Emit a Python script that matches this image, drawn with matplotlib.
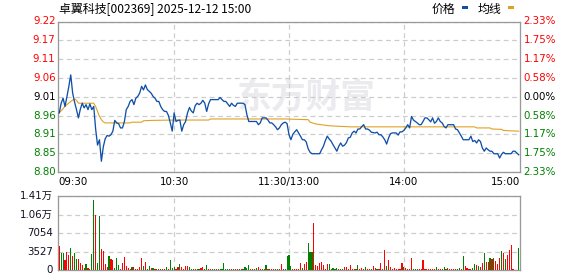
import numpy as np
import matplotlib
matplotlib.use('Agg')
import matplotlib.pyplot as plt
import matplotlib.transforms as mtransforms

# ---------------- data ----------------
title = "卓翼科技[002369] 2025-12-12 15:00"
time_labels = ["09:30", "10:30", "11:30/13:00", "14:00", "15:00"]
time_ticks = [0, 60, 120, 180, 240]

price_tick_labels = ["8.80", "8.85", "8.91", "8.96", "9.01", "9.06", "9.11", "9.17", "9.22"]
pct_tick_labels = ["2.33%", "1.75%", "1.17%", "0.58%", "0.00%", "0.58%", "1.17%", "1.75%", "2.33%"]
price_min, price_max = 8.80, 9.22

price = [
    8.965, 8.992, 9.006, 8.983, 9.010, 9.039, 9.071, 9.020, 8.995, 8.974,
    8.951, 8.975, 8.992, 8.979, 8.988, 8.974, 8.990, 8.974, 8.983, 8.920,
    8.875, 8.890, 8.830, 8.870, 8.893, 8.902, 8.900, 8.904, 8.914, 8.944,
    8.937, 8.935, 8.923, 8.923, 8.940, 8.974, 8.983, 8.997, 9.002, 8.988,
    9.006, 9.011, 9.020, 9.039, 9.029, 9.043, 9.030, 9.025, 9.020, 9.011,
    9.006, 8.997, 8.997, 8.983, 8.974, 8.969, 8.969, 8.958, 8.937, 8.914,
    8.965,
    8.941, 8.944, 8.945, 8.914, 8.932, 8.941, 8.965, 8.980, 8.970, 8.965,
    8.985, 8.992, 8.988, 8.992, 9.000, 8.992, 8.969, 8.990, 9.002, 9.002,
    9.002, 9.002, 9.002, 9.008, 9.002, 8.997, 8.997, 8.990, 8.983, 8.992,
    8.986, 8.983, 8.992, 8.992, 8.992, 8.992, 8.988, 8.960, 8.941, 8.941,
    8.941, 8.941, 8.941, 8.932, 8.937, 8.951, 8.951, 8.951, 8.945, 8.937,
    8.937, 8.932, 8.926, 8.918, 8.923, 8.932, 8.937, 8.939, 8.935, 8.904,
    8.890, 8.905, 8.912, 8.918, 8.909, 8.900, 8.890, 8.890, 8.884, 8.865,
    8.855, 8.851, 8.851, 8.851, 8.851, 8.851, 8.862, 8.872, 8.888, 8.900,
    8.892, 8.886, 8.876, 8.867, 8.858, 8.872, 8.881, 8.872, 8.875, 8.882,
    8.895, 8.897, 8.909, 8.914, 8.909, 8.920, 8.920, 8.927, 8.932, 8.920,
    8.920, 8.917, 8.911, 8.910, 8.909, 8.911, 8.904, 8.904, 8.898, 8.890,
    8.878, 8.895, 8.907, 8.909, 8.909, 8.909, 8.903, 8.912, 8.912, 8.916,
    8.923, 8.932, 8.923, 8.955, 8.945, 8.941, 8.937, 8.932, 8.932, 8.941,
    8.951, 8.951, 8.946, 8.940, 8.951, 8.936, 8.941, 8.951, 8.941, 8.937,
    8.927, 8.923, 8.932, 8.932, 8.932, 8.932, 8.920, 8.918, 8.909, 8.900,
    8.890, 8.890, 8.890, 8.890, 8.900, 8.885, 8.888, 8.881, 8.890, 8.885,
    8.867, 8.858, 8.867, 8.862, 8.858, 8.858, 8.851, 8.851, 8.851, 8.839,
    8.849, 8.855, 8.851, 8.851, 8.851, 8.851, 8.858, 8.858, 8.853, 8.848,
]

avg_t = [0, 3, 4, 6, 8, 9, 10, 18, 19, 20, 21, 22, 23, 24, 37, 38, 43, 44, 48,
         60, 78, 79, 118, 130, 131, 134, 141, 152, 181, 217, 218, 225, 226, 231,
         232, 235, 240]
avg_v = [8.965, 8.983, 8.988, 8.997, 9.004, 9.000, 8.992, 8.992, 8.983, 8.969,
         8.955, 8.946, 8.940, 8.937, 8.937, 8.939, 8.939, 8.943, 8.944, 8.945,
         8.945, 8.948, 8.948, 8.946, 8.939, 8.934, 8.929, 8.926, 8.926, 8.926,
         8.923, 8.923, 8.920, 8.919, 8.916, 8.915, 8.914]

volume = [
    4571, 3330, 3330, 2024, 3526, 2939, 4310, 2740, 3330, 2155,
    2155, 1371, 980, 392, 1175, 392, 196, 3134, 13321, 10579,
    1371, 10383, 4114, 3722, 1175, 588, 2743, 2155, 1959, 392,
    2351, 980, 196, 1371, 2547, 784, 392, 196, 588, 588,
    196, 196, 588, 2351, 784, 1567, 196, 784, 392, 392,
    196, 196, 196, 196, 196, 196, 588, 196, 1959, 392,
    588, 196, 588, 1175, 588, 196, 784, 784, 588, 196,
    196, 196, 196, 196, 392, 588, 196, 980, 196, 196,
    196, 196, 196, 196, 196, 196, 1371, 196, 196, 196,
    196, 196, 196, 196, 196, 196, 196, 588, 392, 980,
    196, 196, 196, 392, 588, 196, 196, 196, 980, 196,
    196, 196, 196, 196, 196, 196, 1175, 196, 196, 2743,
    2939,
    784, 196, 196, 196, 196, 1371, 392, 1175, 1567, 5289,
    3526, 3526, 9011, 980, 784, 1371, 1567, 980, 196, 1175,
    1175, 196, 392, 196, 392, 196, 196, 196, 588, 588,
    196, 980, 196, 196, 196, 980, 196, 392, 196, 588,
    196, 196, 196, 784, 392, 196, 196, 1371, 196, 3918,
    784, 1959, 588, 196, 392, 196, 196, 196, 1371, 588,
    392, 196, 196, 2351, 196, 196, 196, 196, 196, 1959,
    196, 196, 196, 196, 196, 196, 588, 196, 196, 196,
    588, 196, 392, 196, 196, 196, 196, 196, 392, 196,
    2743, 784, 392, 196, 196, 392, 1175, 980, 784, 588,
    1371, 3330, 1567, 1567, 2351, 2155, 2351, 1763, 1175, 2351,
    3722, 3330, 2155, 2939, 3918, 4898, 196, 0, 0, 4179,
]
vol_dir = (
    "rggrrrgrgg" "rrrggrrggr" "ggrrrrgrrg" "ggrrrrrrgr"
    "rrrrgrggrg" "rgrgrrgrgg" "grrgrrrrgg" "grggrrggrr"
    "ggrggggggg" "rgrrgrgggg" "rgrgrrgrgr" "grrgrgrrgg"
    "g"
    "grrrrrgrrg" "ggrrrrrrrr" "gggggrggrr" "rrrgrgrrrg"
    "rrgrrgrrgr" "grrrrrrrrg" "rrrrgggrrr" "rrrrrrgrrg"
    "grgrrrrggr" "grrrrggrgr" "rgrrgrgrrr" "grgrrrrrrg"
)
vol_ticks = [0, 3527, 7054, 10581, 14108]
vol_tick_labels = ["0", "3527", "7054", "1.06万", "1.41万"]

# ---------------- style ----------------
W, H = 578, 276
RED, GREEN = "#ff0000", "#008000"
BLUE, GOLD = "#0f4fa8", "#e0a020"
FRAME, GRID = "#999999", "#cccccc"
PX = 0.72  # one pixel in points at dpi 100
NUM_FS = 7.4
CJK = ["Noto Sans CJK SC", "DejaVu Sans"]
NUMF = ["DejaVu Sans", "Noto Sans CJK SC"]

fig = plt.figure(figsize=(W / 100, H / 100), dpi=100)
fig.patch.set_facecolor("white")

def fx(x):
    return x / W

def fy(y):
    return 1 - y / H

L, R = 58.3, 519.7
PT, PB = 21.5, 172.0
VT, VB = 196.3, 270.3
ax = fig.add_axes([fx(L), fy(PB), (R - L) / W, (PB - PT) / H])
axv = fig.add_axes([fx(L), fy(VB), (R - L) / W, (VB - VT) / H])

for a in (ax, axv):
    a.set_xlim(-0.5, 240.5)
    for s in a.spines.values():
        s.set_color(FRAME)
        s.set_linewidth(1.3 * PX)
    a.tick_params(left=False, bottom=False, labelleft=False, labelbottom=False)
    a.set_xticks(time_ticks[1:-1])
    a.grid(True, color=GRID, linestyle=(0, (4, 3)), linewidth=1.2 * PX)
    a.set_axisbelow(True)

# price panel
ptick_vals = np.linspace(price_min, price_max, len(price_tick_labels))
ax.set_ylim(price_min, price_max)
ax.set_yticks(ptick_vals)
x = np.arange(len(price))
ax.text(0.537, 0.50, "东方财富", transform=ax.transAxes, ha="center", va="center",
        fontsize=25, fontweight="bold", color="#ebebef", family=CJK, zorder=0)
ax.plot(avg_t, avg_v, color=GOLD, linewidth=1.1 * PX, zorder=3)
ax.plot(x, price, color=BLUE, linewidth=1.3 * PX, zorder=4)

tl = mtransforms.blended_transform_factory(fig.transFigure, ax.transData)
n = len(price_tick_labels)
mid = n // 2
for k, (v, lab, plab) in enumerate(zip(ptick_vals, price_tick_labels, pct_tick_labels)):
    c = RED if k > mid else ("black" if k == mid else GREEN)
    ax.text(fx(55.5), v, lab, transform=tl, ha="right", va="center",
            fontsize=NUM_FS, color=c, family=NUMF)
    ax.text(fx(523.5), v, plab, transform=tl, ha="left", va="center",
            fontsize=NUM_FS, color=c, family=NUMF)

# time labels
for t, lab in zip(time_ticks, time_labels):
    ha = "left" if t == 0 else ("right" if t == 240 else "center")
    xx = ax.transData.transform((t, 0))[0]
    xf = fig.transFigure.inverted().transform((xx, 0))[0]
    if t == 0:
        xf = fx(L)
    if t == 240:
        xf = fx(R)
    fig.text(xf, fy(181.8), lab, ha=ha, va="center", fontsize=NUM_FS,
             color="black", family=NUMF)

# volume panel
axv.set_ylim(0, vol_ticks[-1])
axv.set_yticks(vol_ticks)
vcol = [RED if c == "r" else GREEN for c in vol_dir]
axv.bar(np.arange(len(volume)), volume, width=0.6, color=vcol, linewidth=0,
        antialiased=False, zorder=3)
tv = mtransforms.blended_transform_factory(fig.transFigure, axv.transData)
for v, lab in zip(vol_ticks, vol_tick_labels):
    axv.text(fx(53), v, lab, transform=tv, ha="right", va="center",
             fontsize=NUM_FS, color="#111122", family=NUMF, clip_on=False)

# title and legend
fig.text(fx(59), fy(8.8), title, ha="left", va="center", fontsize=8.6,
         color="black", family=CJK)
fig.text(fx(431.5), fy(9.3), "价格", ha="left", va="center", fontsize=8.6,
         color="black", family=CJK)
fig.text(fx(477.5), fy(9.3), "均线", ha="left", va="center", fontsize=8.6,
         color="black", family=CJK)
fig.add_artist(plt.Rectangle((fx(462), fy(8.5)), 6 / W, 2.2 / H,
                             transform=fig.transFigure, color=BLUE, linewidth=0))
fig.add_artist(plt.Rectangle((fx(508), fy(8.5)), 6 / W, 2.2 / H,
                             transform=fig.transFigure, color=GOLD, linewidth=0))

fig.savefig("out.png", dpi=100)
